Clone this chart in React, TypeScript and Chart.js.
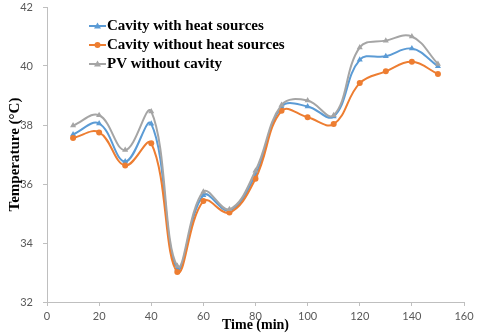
import React, { useEffect, useRef } from "react";
import { Chart, registerables } from "chart.js";

Chart.register(...registerables);

const timeMin = [10, 20, 30, 40, 50, 60, 70, 80, 90, 100, 110, 120, 130, 140, 150];
const withHeat = [37.68, 38.05, 36.76, 38.04, 33.13, 35.62, 35.1, 36.31, 38.62, 38.63, 38.29, 40.21, 40.33, 40.59, 39.99];
const withoutHeat = [37.56, 37.75, 36.63, 37.38, 33.02, 35.42, 35.03, 36.18, 38.48, 38.26, 38.03, 39.42, 39.82, 40.14, 39.73];
const pvNoCavity = [37.98, 38.33, 37.15, 38.46, 33.22, 35.74, 35.14, 36.45, 38.68, 38.83, 38.33, 40.63, 40.86, 41.0, 40.07];
const seriesLabels = ["Cavity with heat sources", "Cavity without heat sources", "PV without cavity"];
const seriesColors = ["#5B9BD5", "#ED7D31", "#A5A5A5"];
const seriesMarkers = ["triangle", "circle", "triangle"];
const xTitle = "Time (min)";
const yTitle = "Temperature (°C)";

const overlay = {
  id: "overlay",
  afterDraw(chart: any) {
    const ctx = chart.ctx;
    const area = chart.chartArea;
    ctx.save();
    ctx.fillStyle = "#000";
    ctx.font = "bold 14px 'Liberation Serif', 'Times New Roman', serif";
    ctx.textAlign = "center";
    ctx.textBaseline = "middle";
    ctx.fillText(xTitle, (area.left + area.right) / 2, 325);
    ctx.font = "bold 15px 'Liberation Serif', 'Times New Roman', serif";
    ctx.translate(15, (area.top + area.bottom) / 2);
    ctx.rotate(-Math.PI / 2);
    ctx.fillText(yTitle, 0, 0);
    ctx.restore();

    ctx.save();
    ctx.font = "bold 15px 'Liberation Serif', 'Times New Roman', serif";
    ctx.textAlign = "left";
    ctx.textBaseline = "middle";
    const ys = [26, 45, 64];
    chart.data.datasets.forEach((ds: any, i: number) => {
      const y = ys[i];
      ctx.strokeStyle = ds.borderColor;
      ctx.lineWidth = 2;
      ctx.beginPath();
      ctx.moveTo(89, y);
      ctx.lineTo(106, y);
      ctx.stroke();
      ctx.fillStyle = ds.borderColor;
      ctx.beginPath();
      if (ds.pointStyle === "circle") {
        ctx.arc(97.5, y, 3, 0, Math.PI * 2);
      } else {
        ctx.moveTo(97.5, y - 3.5);
        ctx.lineTo(101, y + 2.5);
        ctx.lineTo(94, y + 2.5);
        ctx.closePath();
      }
      ctx.fill();
      ctx.fillStyle = "#000";
      ctx.fillText(ds.label, 107, y + 0.5);
    });
    ctx.restore();
  },
};

export default function App() {
  const ref = useRef<HTMLCanvasElement | null>(null);
  useEffect(() => {
    if (!ref.current) return;
    const series = [withHeat, withoutHeat, pvNoCavity];
    const chart = new Chart(ref.current, {
      type: "line",
      data: {
        datasets: series.map((vals, i) => ({
          label: seriesLabels[i],
          data: timeMin.map((t, j) => ({ x: t, y: vals[j] })),
          borderColor: seriesColors[i],
          backgroundColor: seriesColors[i],
          pointStyle: seriesMarkers[i] as any,
          pointRadius: seriesMarkers[i] === "circle" ? 3 : 3.5,
          pointBorderWidth: 0,
          borderWidth: 2,
          tension: 0.4,
          fill: false,
          order: 2 - i,
        })),
      },
      options: {
        animation: false,
        responsive: false,
        layout: { padding: { top: 7, right: 16, left: 0, bottom: 0 } },
        plugins: { legend: { display: false }, tooltip: { enabled: false } },
        scales: {
          x: {
            type: "linear",
            min: 0,
            max: 160,
            ticks: { stepSize: 20, color: "#595959", font: { family: "Lato, 'Open Sans', sans-serif", size: 11 }, padding: 4, maxRotation: 0 },
            grid: { drawOnChartArea: false, drawTicks: true, tickLength: 4, color: "#BFBFBF" },
            border: { color: "#BFBFBF", width: 1 },
            afterFit: (s: any) => { s.height = 32; s.paddingLeft = 0; s.paddingRight = 0; },
          },
          y: {
            min: 32,
            max: 42,
            ticks: { stepSize: 2, color: "#595959", font: { family: "Lato, 'Open Sans', sans-serif", size: 11 }, padding: 10 },
            grid: { drawOnChartArea: false, drawTicks: true, tickLength: 4, color: "#BFBFBF" },
            border: { color: "#BFBFBF", width: 1 },
            afterFit: (s: any) => { s.width = 47; s.paddingTop = 0; s.paddingBottom = 0; },
          },
        },
      },
      plugins: [overlay],
    });
    return () => chart.destroy();
  }, []);
  return (
    <div style={{ position: "absolute", left: 0, top: 0, width: 480, height: 334, background: "#fff" }}>
      <canvas ref={ref} width={480} height={334} />
    </div>
  );
}
